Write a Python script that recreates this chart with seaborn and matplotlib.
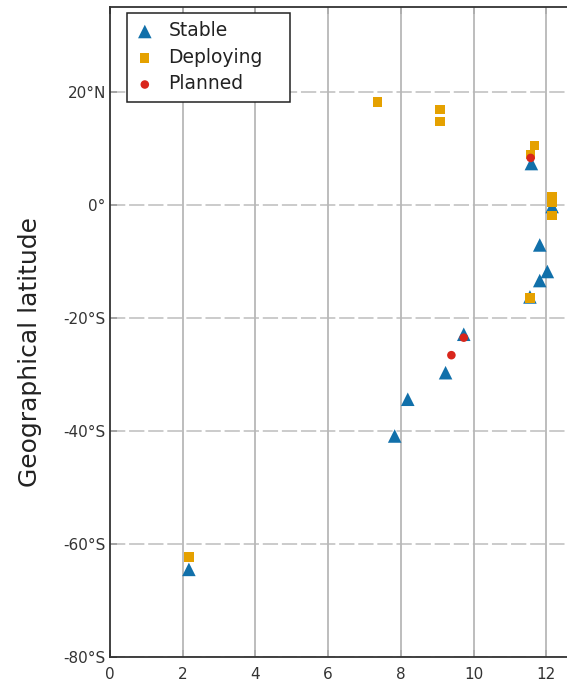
import numpy as np
import pandas as pd
import matplotlib
matplotlib.use("Agg")
import matplotlib.pyplot as plt
import seaborn as sns

# Data (x value, latitude in degrees)
stable_x = [11.59, 12.16, 11.82, 12.03, 11.82, 11.55, 9.73, 9.23, 8.19, 7.83, 2.17]
stable_y = [7.3, -0.3, -7.1, -11.8, -13.4, -16.3, -22.9, -29.7, -34.4, -40.9, -64.5]
deploy_x = [7.35, 9.08, 9.08, 11.67, 11.57, 12.16, 12.16, 12.16, 11.55, 2.17]
deploy_y = [18.2, 16.9, 14.8, 10.5, 8.9, 1.5, 0.4, -1.9, -16.5, -62.3]
planned_x = [11.57, 9.73, 9.39]
planned_y = [8.3, -23.5, -26.6]

categories = ["Stable", "Deploying", "Planned"]
colors = {"Stable": "#1170AA", "Deploying": "#E5A100", "Planned": "#D9261C"}
markers = {"Stable": "^", "Deploying": "s", "Planned": "o"}
sizes = {"Stable": 95, "Deploying": 45, "Planned": 38}

yticks = [-80, -60, -40, -20, 0, 20]
ytick_labels = ["-80°S", "-60°S", "-40°S", "-20°S", "0°", "20°N"]
xticks = [0, 2, 4, 6, 8, 10, 12]

sns.set_theme(style="white")
plt.rcParams['font.family'] = ['DejaVu Sans']

fig = plt.figure(figsize=(5.67, 6.97), dpi=100)
ax = fig.add_axes([110/567, 40/697, 509/567, 650/697])

xs = {"Stable": stable_x, "Deploying": deploy_x, "Planned": planned_x}
ys = {"Stable": stable_y, "Deploying": deploy_y, "Planned": planned_y}
for cat in categories:
    df = pd.DataFrame({"x": xs[cat], "y": ys[cat]})
    sns.scatterplot(data=df, x="x", y="y", ax=ax, marker=markers[cat],
                    color=colors[cat], s=sizes[cat], edgecolor="none",
                    label=cat, zorder=3)

ax.set_xlim(0, 14)
ax.set_ylim(-80, 35)
ax.set_xticks(xticks)
ax.set_yticks(yticks)
ax.set_yticklabels(ytick_labels)
ax.set_xlabel("")
ax.set_ylabel("Geographical latitude", fontsize=18, color="#222222")
ax.yaxis.set_label_coords(-68/509, 0.469)

# grid: dashed horizontal, solid vertical
for yv in yticks:
    ax.axhline(yv, color="#bdbdbd", lw=1.1, ls=(0, (10, 2.5)), zorder=1)
for xv in xticks[1:] + [14]:
    ax.axvline(xv, color="#b8b8b8", lw=1.3, zorder=1)

ax.tick_params(axis="both", direction="in", length=5, width=1.2, color="#333333",
               labelsize=11, labelcolor="#333333", top=True, right=False,
               bottom=True, left=True)
ax.tick_params(axis="x", pad=7)
ax.tick_params(axis="y", pad=3)
for side in ["left", "bottom", "top"]:
    ax.spines[side].set_color("#333333")
    ax.spines[side].set_linewidth(1.3)
ax.spines["right"].set_visible(False)

leg = ax.legend(loc="upper left",
                bbox_to_anchor=(17/509, (657 - 103)/650, 163/509, 90/650),
                mode="expand", borderaxespad=0,
                fontsize=13.5, frameon=True, fancybox=False, framealpha=1,
                edgecolor="#222222", handlelength=1.0, handletextpad=0.75,
                borderpad=0.45, labelspacing=0.4)
leg.get_frame().set_linewidth(1.1)
for t in leg.get_texts():
    t.set_color("#222222")

fig.savefig("out.png", dpi=100)
